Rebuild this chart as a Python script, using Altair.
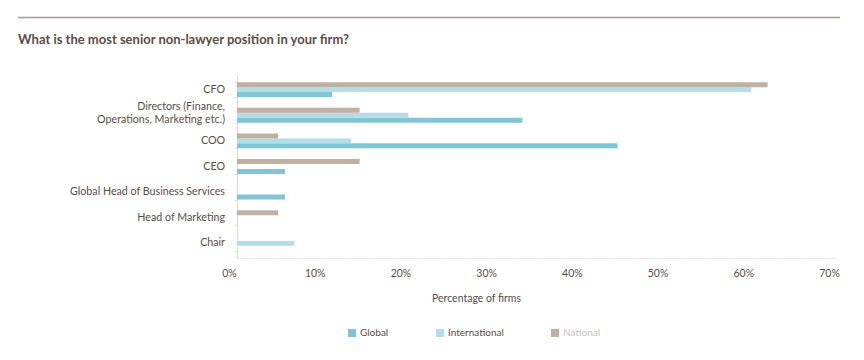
import altair as alt
import pandas as pd

categories = [
    "CFO",
    "Directors (Finance,\nOperations, Marketing etc.)",
    "COO",
    "CEO",
    "Global Head of Business Services",
    "Head of Marketing",
    "Chair",
]
series = ["Global", "International", "National"]
global_vals = [11.1, 33.3, 44.4, 5.6, 5.6, 0.0, 0.0]
international_vals = [60.0, 20.0, 13.3, 0.0, 0.0, 0.0, 6.7]
national_vals = [61.9, 14.3, 4.8, 14.3, 0.0, 4.8, 0.0]
colors = ["#7fc5d4", "#b4dde5", "#bfb0a2"]
x_ticks = [0, 10, 20, 30, 40, 50, 60, 70]

title_text = "What is the most senior non-lawyer position in your firm?"
x_title = "Percentage of firms"

rows = []
for name, vals in zip(series, [global_vals, international_vals, national_vals]):
    for cat, v in zip(categories, vals):
        if v > 0:
            rows.append({"position": cat, "series": name, "value": v})
df = pd.DataFrame(rows)
labels_df = pd.DataFrame({"position": categories, "multi": ["\n" in c for c in categories]})

TEXT = "#5b4c45"
LIGHT = "#e4ddd7"
FONT = "Lato"

y_enc = alt.Y(
    "position:N",
    sort=categories,
    scale=alt.Scale(paddingInner=0.42, paddingOuter=0.28),
    axis=alt.Axis(
        title=None,
        labels=False,
        tickBand="extent",
        tickSize=3,
        tickColor=LIGHT,
        domainColor=LIGHT,
        domainWidth=1.5,
        grid=False,
    ),
)

bars = alt.Chart(df).mark_bar().encode(
    y=y_enc,
    yOffset=alt.YOffset("series:N", sort=["National", "International", "Global"]),
    x=alt.X(
        "value:Q",
        scale=alt.Scale(domain=[0, 70], nice=False),
        axis=alt.Axis(
            title=x_title,
            values=x_ticks,
            labelExpr="datum.value + '%'",
            labelFont=FONT,
            labelFontSize=10.5,
            labelColor=TEXT,
            labelPadding=10,
            labelOffset=-8,
            labelFlush=False,
            ticks=False,
            grid=False,
            domainColor=LIGHT,
            domainDash=[2, 1],
            titleFont=FONT,
            titleFontSize=10.5,
            titleFontWeight="normal",
            titleColor=TEXT,
            titleX=239,
            titleY=40,
            titleAlign="center",
            titleBaseline="middle",
        ),
    ),
    color=alt.Color(
        "series:N",
        scale=alt.Scale(domain=series, range=colors),
        legend=alt.Legend(
            title=None,
            orient="none",
            legendX=110,
            legendY=253,
            direction="horizontal",
            symbolType="square",
            symbolSize=64,
            symbolStrokeWidth=0,
            labelOffset=3,
            columnPadding=46,
            labelFont=FONT,
            labelFontSize=10,
            labelColor=alt.ExprRef("datum.label == 'National' ? '#c9beb5' : '#5b4c45'"),
            padding=0,
        ),
    ),
)

label_base = alt.Chart(labels_df)
single_labels = label_base.transform_filter("!datum.multi").mark_text(
    align="right", baseline="middle", font=FONT, fontSize=10.7, color=TEXT
).encode(y=alt.Y("position:N", sort=categories), x=alt.value(-12), text="position:N")

multi_labels = label_base.transform_filter("datum.multi").mark_text(
    align="right", baseline="middle", font=FONT, fontSize=10.7, color=TEXT,
    lineBreak="\n", lineHeight=13, dy=-8.5,
).encode(y=alt.Y("position:N", sort=categories), x=alt.value(-12), text="position:N")

deco = alt.Chart(pd.DataFrame({"a": [0]}))

top_rule = deco.mark_rule(color="#a39a92", strokeWidth=1.5).encode(
    x=alt.value(-219), x2=alt.value(603), y=alt.value(-57.5)
)

title_mark = deco.mark_text(
    align="left",
    baseline="middle",
    font=FONT,
    fontSize=13,
    fontWeight="bold",
    color=TEXT,
).encode(x=alt.value(-219), y=alt.value(-35), text=alt.value(title_text))

chart = alt.layer(bars, single_labels, multi_labels, top_rule, title_mark).properties(
    width=600,
    height=183,
    autosize=alt.AutoSizeParams(type="none"),
    padding={"left": 229, "top": 67, "right": 19, "bottom": 94},
).configure_view(stroke=None)

chart.save("out.html", embed_options={"renderer": "svg", "actions": False})
